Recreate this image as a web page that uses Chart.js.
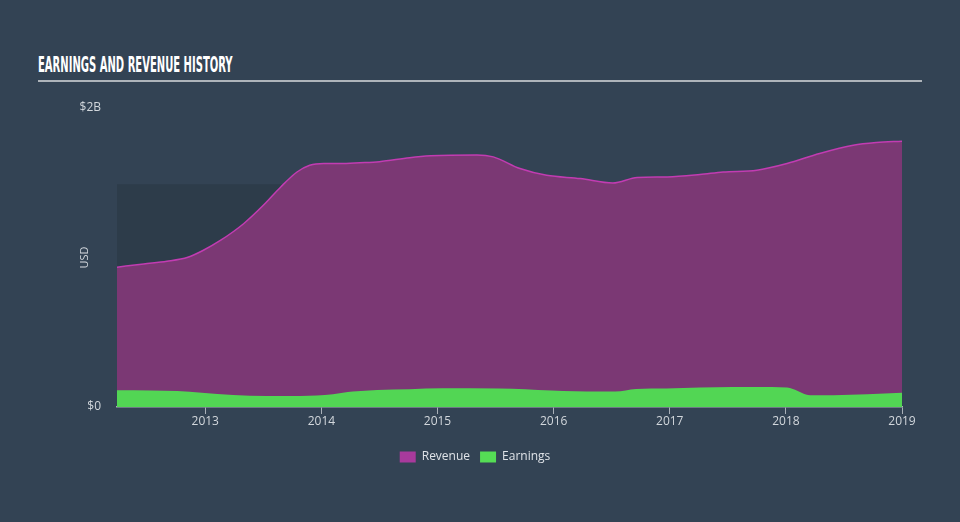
<!DOCTYPE html>
<html>
<head>
<meta charset="utf-8">
<script src="https://cdn.jsdelivr.net/npm/chart.js@4.4.1/dist/chart.umd.min.js"></script>
<style>
  html, body { margin:0; padding:0; background:#334354; width:960px; height:522px; overflow:hidden; }
  #title { position:absolute; left:38px; top:53px; color:#ffffff; font-family:"Liberation Sans Narrow","DejaVu Sans Condensed",sans-serif; font-weight:bold; font-size:21px; letter-spacing:0px; transform-origin:left top; transform:scaleX(0.53); white-space:nowrap; }
  #rule { position:absolute; left:38px; top:80px; width:884px; height:2px; background:#aeb4ba; }
  #wrap { position:absolute; left:0; top:0; width:960px; height:522px; }
</style>
</head>
<body>
<div id="title">EARNINGS AND REVENUE HISTORY</div>
<div id="rule"></div>
<div id="wrap"><canvas id="c" width="960" height="522"></canvas></div>
<script>
// ---- data (decimal years, values in USD) ----
const revenueYears = [2012.24, 2012.47, 2012.67, 2012.85, 2012.98, 2013.13, 2013.33, 2013.5, 2013.65, 2013.79, 2013.9, 2014.02, 2014.16, 2014.33, 2014.5, 2014.76, 2014.94, 2015.34, 2015.48, 2015.71, 2015.94, 2016.23, 2016.51, 2016.72, 2016.98, 2017.26, 2017.46, 2017.75, 2018.01, 2018.29, 2018.58, 2018.78, 2019.0];
const revenueValues = [0.935e9, 0.957e9, 0.975e9, 1.002e9, 1.047e9, 1.114e9, 1.226e9, 1.349e9, 1.472e9, 1.572e9, 1.617e9, 1.629e9, 1.629e9, 1.634e9, 1.641e9, 1.668e9, 1.680e9, 1.686e9, 1.673e9, 1.595e9, 1.550e9, 1.528e9, 1.498e9, 1.535e9, 1.539e9, 1.555e9, 1.572e9, 1.584e9, 1.629e9, 1.696e9, 1.751e9, 1.769e9, 1.778e9];
const earningsYears = [2012.24, 2012.53, 2012.76, 2012.97, 2013.24, 2013.53, 2013.82, 2014.1, 2014.27, 2014.48, 2014.76, 2015.04, 2015.53, 2015.98, 2016.39, 2016.53, 2016.71, 2016.97, 2017.26, 2017.54, 2017.75, 2018.01, 2018.06, 2018.21, 2018.41, 2018.7, 2019.0];
const earningsValues = [0.112e9, 0.111e9, 0.107e9, 0.096e9, 0.081e9, 0.074e9, 0.074e9, 0.085e9, 0.103e9, 0.114e9, 0.119e9, 0.125e9, 0.124e9, 0.111e9, 0.103e9, 0.103e9, 0.121e9, 0.123e9, 0.130e9, 0.134e9, 0.134e9, 0.130e9, 0.121e9, 0.079e9, 0.079e9, 0.085e9, 0.096e9];
const xTickYears = [2013, 2014, 2015, 2016, 2017, 2018, 2019];
const yTickValues = [0, 2e9];
const yTickLabels = ['$0', '$2B'];
const seriesNames = ['Earnings', 'Revenue'];
// shaded backdrop region (years / value)
const shadeFrom = 2012.24, shadeTo = 2013.9, shadeTop = 1.49e9;

const toXY = (xs, ys) => xs.map((x, i) => ({x: x, y: ys[i]}));

const shadePlugin = {
  id: 'shade',
  beforeDatasetsDraw(chart) {
    const {ctx, scales: {x, y}} = chart;
    ctx.save();
    ctx.fillStyle = '#2d3c4a';
    const x0 = x.getPixelForValue(shadeFrom), x1 = x.getPixelForValue(shadeTo);
    const y0 = y.getPixelForValue(shadeTop), y1 = y.getPixelForValue(0);
    ctx.fillRect(x0, y0, x1 - x0, y1 - y0);
    ctx.restore();
  }
};

const legendShift = {
  id: 'legendShift',
  afterLayout(chart) {
    const lg = chart.legend;
    if (lg) { lg.left += 24; lg.right += 24; }
  }
};

new Chart(document.getElementById('c'), {
  type: 'line',
  data: {
    datasets: [
      {
        label: seriesNames[0],
        data: toXY(earningsYears, earningsValues),
        borderColor: '#52d654',
        backgroundColor: '#52d654',
        borderWidth: 0,
        fill: 'origin',
        pointRadius: 0,
        cubicInterpolationMode: 'monotone'
      },
      {
        label: seriesNames[1],
        data: toXY(revenueYears, revenueValues),
        borderColor: '#c23cb2',
        backgroundColor: '#7b3874',
        borderWidth: 1.5,
        fill: 'origin',
        pointRadius: 0,
        cubicInterpolationMode: 'monotone'
      }
    ]
  },
  options: {
    responsive: false,
    animation: false,
    layout: { padding: { left: 0, right: 58, top: 108, bottom: 49 } },
    plugins: {
      tooltip: { enabled: false },
      legend: {
        position: 'bottom',
        labels: {
          color: '#dfe3e8',
          font: { family: 'Open Sans', size: 12 },
          boxWidth: 16,
          boxHeight: 11,
          padding: 10,
          sort: (a, b) => b.datasetIndex - a.datasetIndex,
          generateLabels(chart) {
            const cols = ['#55dd55', '#a83a9c'];
            return chart.data.datasets.map((d, i) => ({
              text: d.label, fillStyle: cols[i], strokeStyle: cols[i], lineWidth: 0,
              fontColor: '#dfe3e8', datasetIndex: i, hidden: false
            }));
          }
        }
      }
    },
    scales: {
      x: {
        type: 'linear',
        min: 2012.24,
        max: 2019.0,
        afterBuildTicks(scale) { scale.ticks = xTickYears.map(v => ({value: v})); },
        afterFit(scale) { scale.height = 34; },
        grid: { drawOnChartArea: false, drawTicks: true, tickLength: 7, color: '#a9b0b8' },
        border: { display: true, color: '#a9b0b8', width: 1.5 },
        ticks: {
          color: '#d2d7dc',
          font: { family: 'Open Sans', size: 12 },
          padding: 0,
          maxRotation: 0,
          callback: v => String(v)
        }
      },
      y: {
        min: 0,
        max: 2e9,
        afterBuildTicks(scale) { scale.ticks = yTickValues.map(v => ({value: v})); },
        afterFit(scale) { scale.width = 117; },
        grid: { display: false },
        border: { display: false },
        ticks: {
          color: '#d2d7dc',
          font: { family: 'Open Sans', size: 12 },
          padding: 8,
          callback: (v, i) => yTickLabels[i]
        },
        title: {
          display: true,
          text: 'USD',
          color: '#d2d7dc',
          font: { family: 'Open Sans', size: 11 },
          padding: { top: 78, bottom: 0 }
        }
      }
    }
  },
  plugins: [shadePlugin, legendShift]
});
</script>
</body>
</html>
